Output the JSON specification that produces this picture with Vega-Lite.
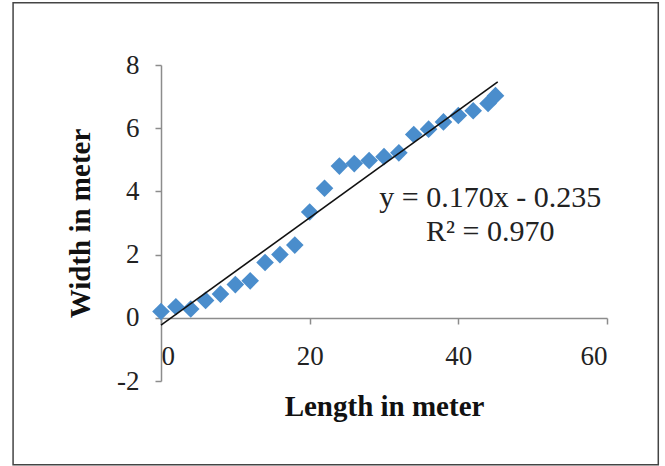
{
  "$schema": "https://vega.github.io/schema/vega-lite/v6.json",
  "autosize": {"type": "none"},
  "width": 446,
  "height": 316,
  "padding": {"left": 161, "top": 65, "right": 58, "bottom": 85},
  "background": "white",
  "config": {
    "view": {"stroke": null},
    "font": "Liberation Serif"
  },
  "datasets": {
    "pts": [
      {"length": 0, "width": 0.2},
      {"length": 2, "width": 0.35},
      {"length": 4, "width": 0.28},
      {"length": 6, "width": 0.55},
      {"length": 8, "width": 0.75},
      {"length": 10, "width": 1.05},
      {"length": 12, "width": 1.17},
      {"length": 14, "width": 1.75},
      {"length": 16, "width": 2.0},
      {"length": 18, "width": 2.3},
      {"length": 20, "width": 3.35},
      {"length": 22, "width": 4.1},
      {"length": 24, "width": 4.8},
      {"length": 26, "width": 4.88},
      {"length": 28, "width": 4.98},
      {"length": 30, "width": 5.1},
      {"length": 32, "width": 5.22},
      {"length": 34, "width": 5.8},
      {"length": 36, "width": 5.97},
      {"length": 38, "width": 6.2},
      {"length": 40, "width": 6.4},
      {"length": 42, "width": 6.55},
      {"length": 44, "width": 6.78},
      {"length": 45, "width": 7.03}
    ],
    "trend": [
      {"length": 0, "width": -0.235},
      {"length": 45.3, "width": 7.466}
    ],
    "labels": [
      {"length": 44.3, "width": 3.79, "text": "y = 0.170x - 0.235"},
      {"length": 44.3, "width": 2.72, "text": "R² = 0.970"}
    ],
    "frame": [
      {"x1": -19.9, "x2": 66.9, "y1": -4.65, "y2": 9.97}
    ]
  },
  "layer": [
    {
      "data": {"name": "frame"},
      "mark": {"type": "rect", "fill": null, "stroke": "#444444", "strokeWidth": 1.5, "clip": false},
      "encoding": {
        "x": {"field": "x1", "type": "quantitative", "scale": {"domain": [0, 60]}},
        "x2": {"field": "x2"},
        "y": {"field": "y1", "type": "quantitative", "scale": {"domain": [-2, 8]}},
        "y2": {"field": "y2"}
      }
    },
    {
      "data": {"name": "pts"},
      "mark": {"type": "point", "shape": "diamond", "filled": true, "size": 310, "color": "#4a8dcc", "opacity": 1},
      "encoding": {
        "x": {
          "field": "length", "type": "quantitative",
          "scale": {"domain": [0, 60], "nice": false, "zero": false},
          "axis": {
            "title": "Length in meter",
            "values": [0, 20, 40, 60],
            "labelExpr": "'' + datum.value",
            "offset": -63,
            "grid": false,
            "domainColor": "#8c8c8c",
            "domainWidth": 1.5,
            "tickColor": "#8c8c8c",
            "tickWidth": 1.5,
            "tickSize": 6,
            "labelPadding": 19,
            "labelFontSize": 27,
            "labelColor": "#222222",
            "labelFont": "Liberation Serif",
            "titleFont": "Liberation Serif",
            "titleFontSize": 29,
            "titleFontWeight": "bold",
            "titleColor": "#111111",
            "titlePadding": 23
          }
        },
        "y": {
          "field": "width", "type": "quantitative",
          "scale": {"domain": [-2, 8], "nice": false, "zero": false},
          "axis": {
            "title": "Width in meter",
            "values": [-2, 0, 2, 4, 6, 8],
            "labelExpr": "'' + datum.value",
            "grid": false,
            "domainColor": "#8c8c8c",
            "domainWidth": 1.5,
            "tickColor": "#8c8c8c",
            "tickWidth": 1.5,
            "tickSize": 6,
            "labelPadding": 16,
            "labelFontSize": 27,
            "labelColor": "#222222",
            "labelFont": "Liberation Serif",
            "titleFont": "Liberation Serif",
            "titleFontSize": 29,
            "titleFontWeight": "bold",
            "titleColor": "#111111",
            "titlePadding": 21
          }
        }
      }
    },
    {
      "data": {"name": "trend"},
      "mark": {"type": "line", "color": "#111111", "strokeWidth": 1.6},
      "encoding": {
        "x": {"field": "length", "type": "quantitative"},
        "y": {"field": "width", "type": "quantitative"}
      }
    },
    {
      "data": {"name": "labels"},
      "mark": {"type": "text", "font": "Liberation Serif", "fontSize": 30, "color": "#222222", "align": "center", "baseline": "middle"},
      "encoding": {
        "x": {"field": "length", "type": "quantitative"},
        "y": {"field": "width", "type": "quantitative"},
        "text": {"field": "text"}
      }
    }
  ]
}
